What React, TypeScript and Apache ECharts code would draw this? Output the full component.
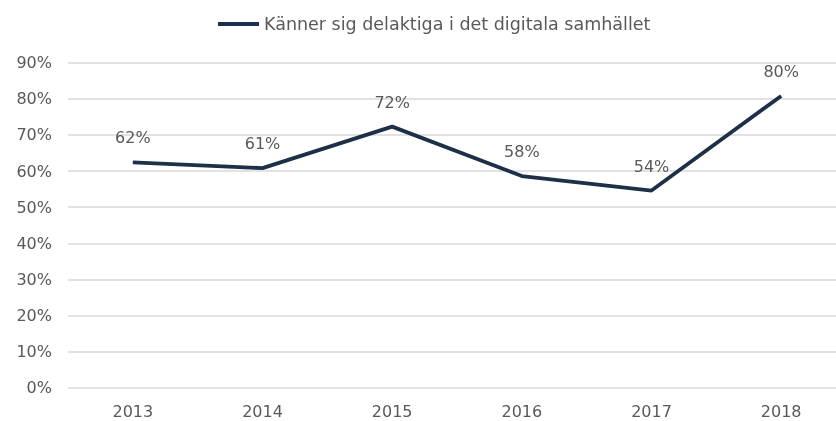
import React, { useEffect, useRef } from "react";
import * as echarts from "echarts";

const years = ["2013", "2014", "2015", "2016", "2017", "2018"];
const values = [62.4, 60.8, 72.3, 58.6, 54.6, 80.8];
const labels = ["62%", "61%", "72%", "58%", "54%", "80%"];
const seriesName = "Känner sig delaktiga i det digitala samhället";

export default function App() {
  const ref = useRef<HTMLDivElement>(null);
  useEffect(() => {
    const chart = echarts.init(ref.current!, null, { renderer: "svg" });
    const font = "DejaVu Sans";
    const navy = "#1d3048";
    chart.setOption({
      animation: false,
      textStyle: { fontFamily: font },
      legend: {
        top: 10,
        left: 213,
        itemWidth: 41,
        itemHeight: 4,
        itemGap: 4,
        icon: "rect",
        itemStyle: { color: navy, opacity: 1 },
        textStyle: { fontFamily: font, fontSize: 17.5, color: "#595959" },
        data: [seriesName],
      },
      grid: {
        left: 68,
        top: 62.7,
        width: 778,
        height: 325,
        outerBoundsMode: "none",
      },
      xAxis: {
        type: "category",
        data: years,
        boundaryGap: true,
        axisLine: { show: false },
        axisTick: { show: false },
        axisLabel: { fontFamily: font, fontSize: 16, color: "#595959", margin: 16 },
      },
      yAxis: {
        type: "value",
        min: 0,
        max: 90,
        interval: 10,
        axisLabel: {
          fontFamily: font,
          fontSize: 16,
          color: "#595959",
          margin: 16,
          formatter: (v: number) => `${v}%`,
        },
        splitLine: { lineStyle: { color: "#d9d9d9", width: 1.5 } },
        axisLine: { show: false },
        axisTick: { show: false },
      },
      series: [
        {
          name: seriesName,
          type: "line",
          data: values,
          symbol: "circle",
          symbolSize: 1,
          showSymbol: true,
          itemStyle: { color: "rgba(0,0,0,0)", borderWidth: 0 },
          lineStyle: { width: 3.8, color: navy },
          label: {
            show: true,
            position: "top",
            distance: 16,
            fontFamily: font,
            fontSize: 16,
            color: "#595959",
            formatter: (p: any) => labels[p.dataIndex],
          },
        },
      ],
    });
    return () => chart.dispose();
  }, []);
  return (
    <div
      ref={ref}
      style={{ position: "fixed", left: 0, top: 0, width: 836, height: 421 }}
    />
  );
}
